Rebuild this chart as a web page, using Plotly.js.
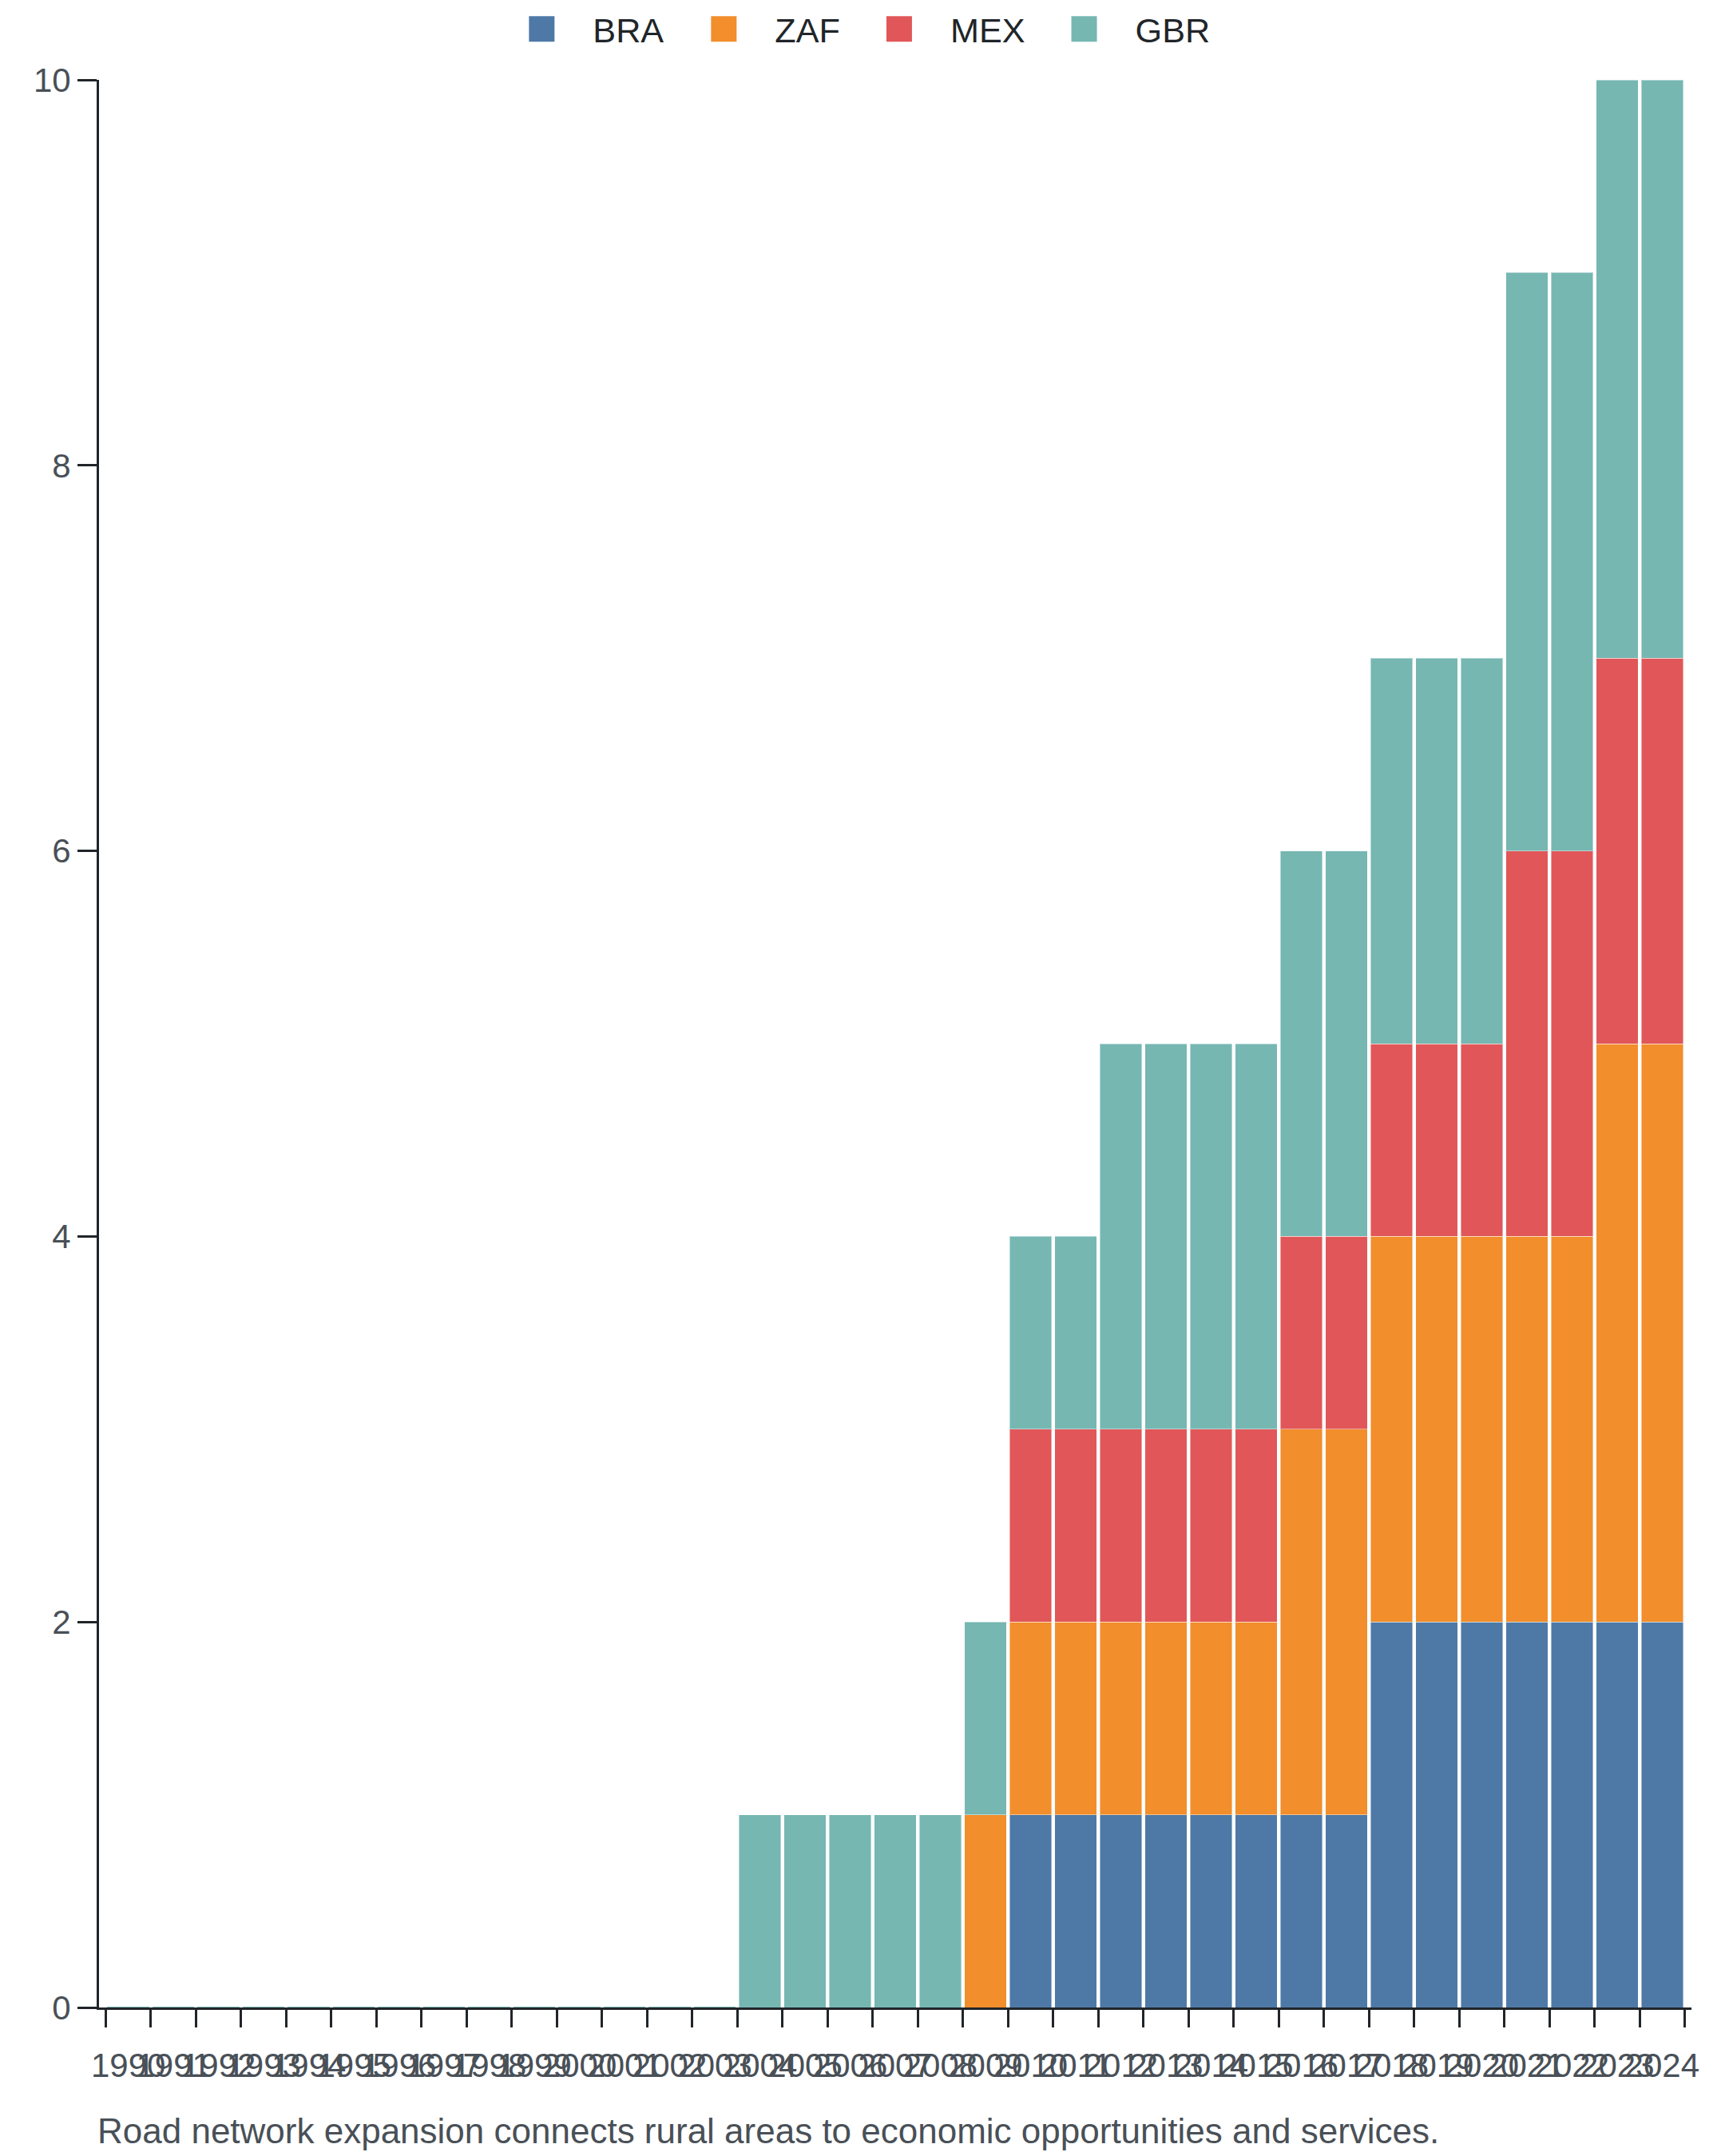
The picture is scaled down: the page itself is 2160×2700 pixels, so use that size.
<!DOCTYPE html>
<html>
<head>
<meta charset="utf-8">
<script src="https://cdn.plot.ly/plotly-3.0.1.min.js"></script>
<style>
  html, body { margin: 0; padding: 0; background: #fff; }
  #page { width: 2160px; height: 2700px; overflow: hidden; position: relative; }
  #chart { width: 1080px; height: 1350px; transform: scale(2); transform-origin: 0 0; }
</style>
</head>
<body>
<div id="page"><div id="chart"></div></div>
<script>
// categories and series
var years = ['1990','1991','1992','1993','1994','1995','1996','1997','1998','1999',
             '2000','2001','2002','2003','2004','2005','2006','2007','2008','2009',
             '2010','2011','2012','2013','2014','2015','2016','2017','2018','2019',
             '2020','2021','2022','2023','2024'];
var bra = [0,0,0,0,0,0,0,0,0,0, 0,0,0,0,0,0,0,0,0,0, 1,1,1,1,1,1,1,1,2,2, 2,2,2,2,2];
var zaf = [0,0,0,0,0,0,0,0,0,0, 0,0,0,0,0,0,0,0,0,1, 1,1,1,1,1,1,2,2,2,2, 2,2,2,3,3];
var mex = [0,0,0,0,0,0,0,0,0,0, 0,0,0,0,0,0,0,0,0,0, 1,1,1,1,1,1,1,1,1,1, 1,2,2,2,2];
var gbr = [0,0,0,0,0,0,0,0,0,0, 0,0,0,0,1,1,1,1,1,1, 1,1,2,2,2,2,2,2,2,2, 2,3,3,3,3];

var names = ['BRA', 'ZAF', 'MEX', 'GBR'];
var colors = ['#4e79a7', '#f28e2b', '#e15759', '#76b7b2'];
var caption = 'Road network expansion connects rural areas to economic opportunities and services.';

var series = [bra, zaf, mex, gbr];
var edge = 'rgba(255,255,255,0.45)';
var data_plot = [];

series.forEach(function (vals, i) {
  var isTop = (i === series.length - 1);
  data_plot.push({
    type: 'bar',
    x: years,
    y: vals,
    name: names[i],
    showlegend: false,
    marker: {
      color: colors[i],
      line: {
        // the top series leaves a thin line on empty years
        color: isTop ? vals.map(function (v) { return v === 0 ? colors[i] : edge; }) : edge,
        width: isTop ? vals.map(function (v) { return v === 0 ? 1.5 : 0.5; }) : 0.5
      }
    }
  });
});

// legend swatches only
names.forEach(function (n, i) {
  data_plot.push({
    type: 'scatter', mode: 'markers', x: [null], y: [null], name: n,
    marker: { symbol: 'square', size: 16, color: colors[i] },
    hoverinfo: 'skip'
  });
});

var axisColor = '#212529';
var labelColor = '#495057';

var layout = {
  width: 1080,
  height: 1350,
  margin: { l: 61.5, r: 20.5, t: 50, b: 92.5, pad: 0, autoexpand: false },
  barmode: 'stack',
  bargap: 0.07,
  paper_bgcolor: '#ffffff',
  plot_bgcolor: '#ffffff',
  font: { family: 'Liberation Sans, Arial, sans-serif', size: 21, color: labelColor },
  xaxis: {
    type: 'category',
    range: [-0.65, 34.65],
    tickmode: 'linear', tick0: 0, dtick: 1,
    tickson: 'boundaries',
    ticks: 'outside', ticklen: 11, tickwidth: 1.5, tickcolor: axisColor,
    showline: true, linecolor: axisColor, linewidth: 1.5,
    showgrid: false, zeroline: false,
    tickangle: 0,
    ticklabelstandoff: 17,
    tickfont: { size: 21, color: labelColor }
  },
  yaxis: {
    range: [0, 10],
    tick0: 0, dtick: 2,
    ticks: 'outside', ticklen: 12, tickwidth: 1.5, tickcolor: axisColor,
    showline: true, linecolor: axisColor, linewidth: 1.5,
    showgrid: false, zeroline: false,
    tickfont: { size: 21, color: labelColor }
  },
  showlegend: true,
  legend: {
    orientation: 'h',
    traceorder: 'normal',
    x: 0.4746, xanchor: 'center',
    y: 1.026, yanchor: 'middle',
    font: { size: 21.6, color: axisColor },
    itemwidth: 54
  },
  annotations: [{
    xref: 'paper', yref: 'paper',
    x: -0.003, y: -0.0646, xanchor: 'left', yanchor: 'middle',
    showarrow: false,
    text: caption,
    font: { size: 22, color: labelColor }
  }]
};

Plotly.newPlot('chart', data_plot, layout, { displayModeBar: false, staticPlot: true });
</script>
</body>
</html>
